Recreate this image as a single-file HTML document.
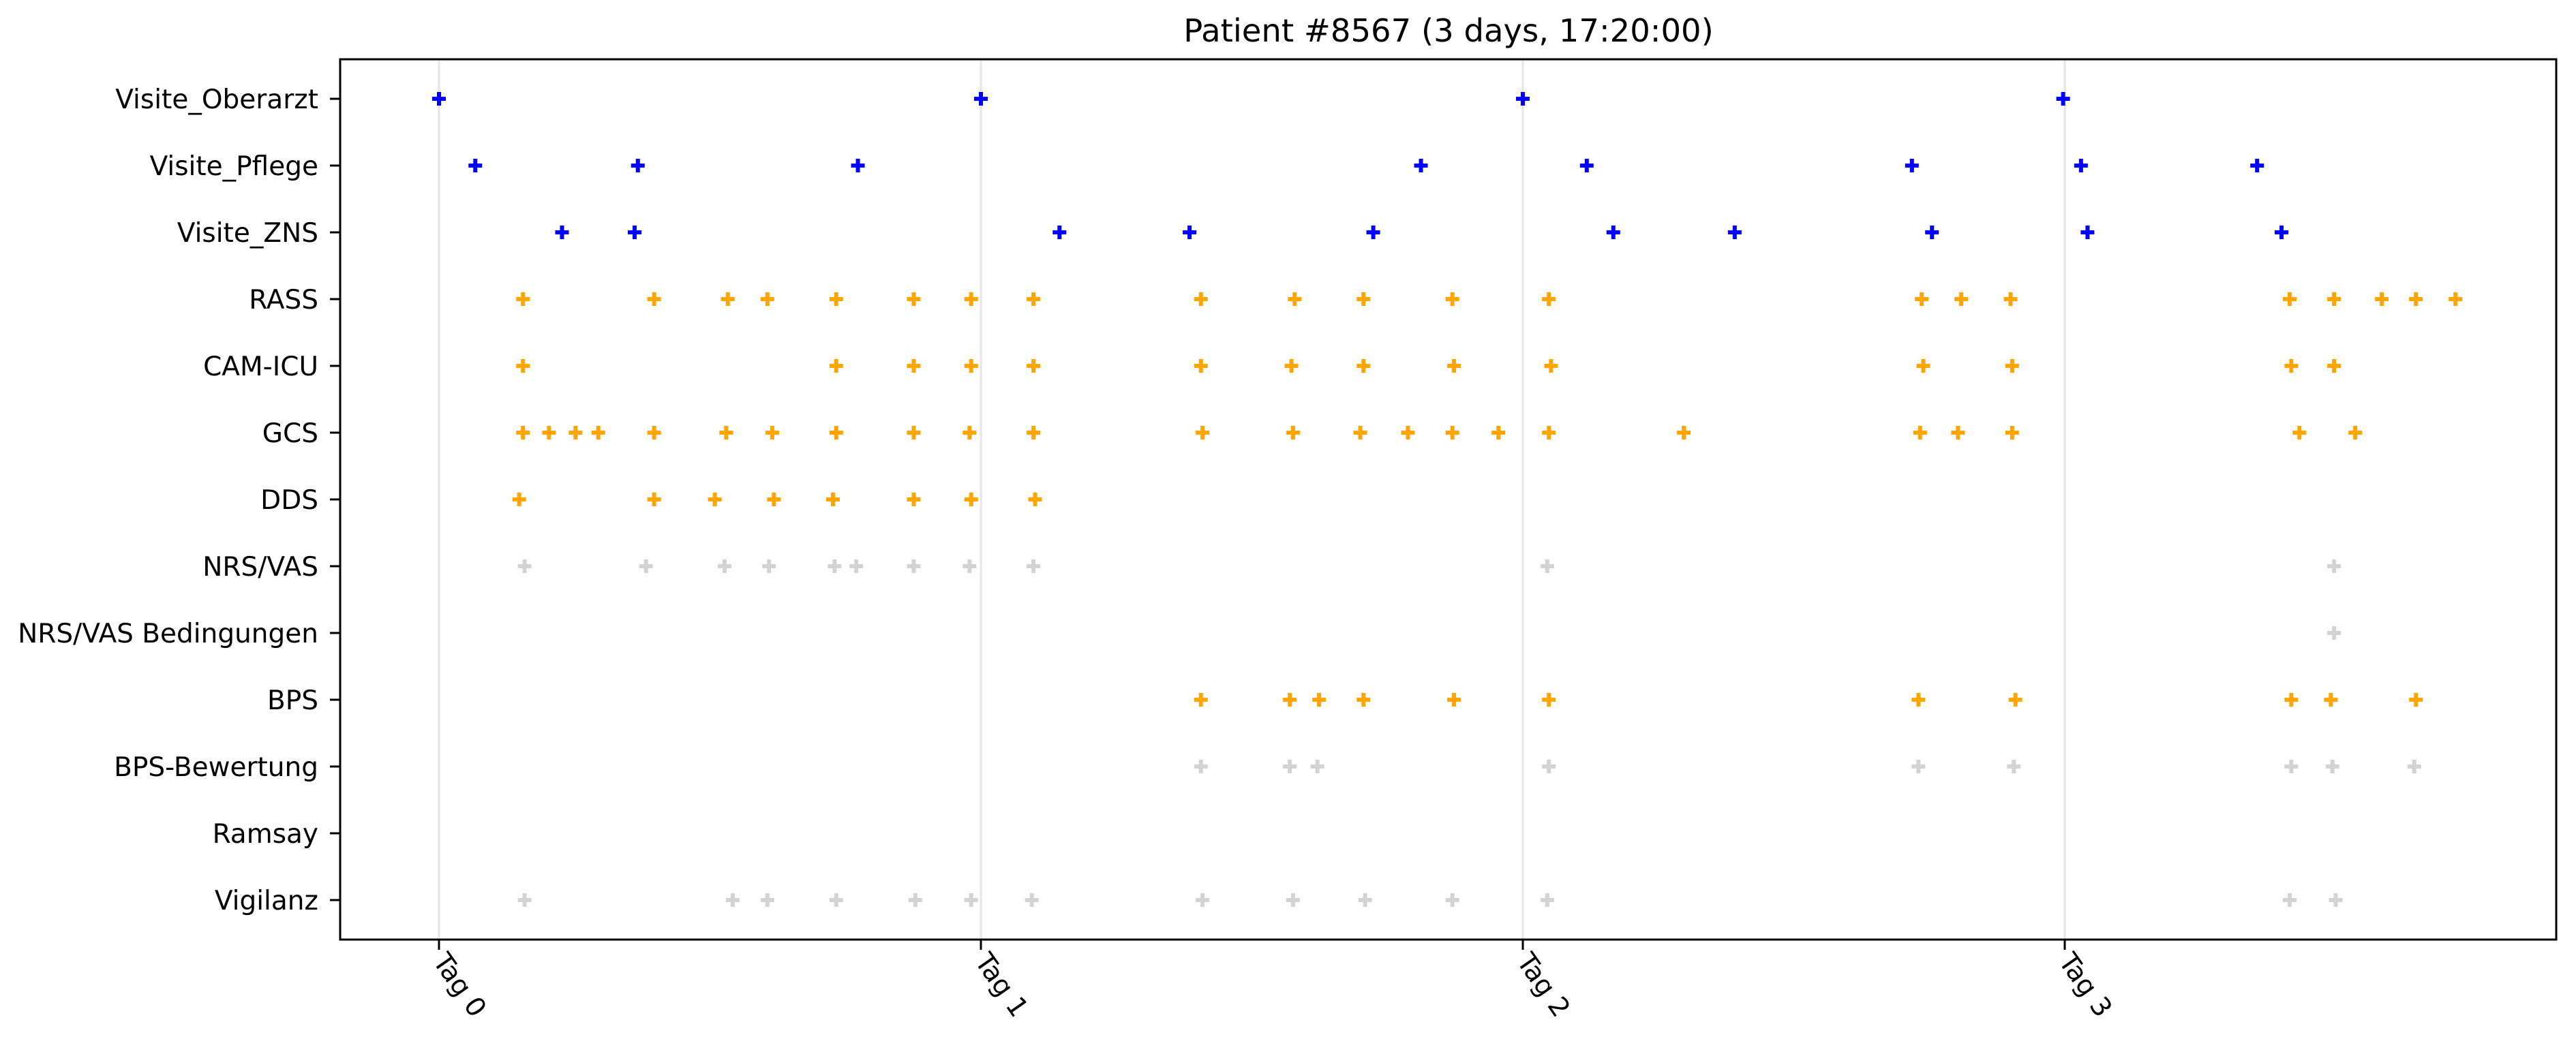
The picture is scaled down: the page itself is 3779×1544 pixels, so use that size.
<!DOCTYPE html>
<html><head><meta charset="utf-8"><style>
html,body{margin:0;padding:0;background:#fff;}
svg text{font-family:"DejaVu Sans","Liberation Sans",sans-serif;}
</style></head><body>
<svg id="chart" width="3779" height="1539" xmlns="http://www.w3.org/2000/svg">
<rect width="3779" height="1539" fill="#fff"/>
<text x="2125" y="61" font-size="46.5" text-anchor="middle">Patient #8567 (3 days, 17:20:00)</text>
<g id="grid"></g><g id="marks"></g><g id="axes"></g>
</svg>
<script>
const categories=["Visite_Oberarzt","Visite_Pflege","Visite_ZNS","RASS","CAM-ICU","GCS","DDS","NRS/VAS","NRS/VAS Bedingungen","BPS","BPS-Bewertung","Ramsay","Vigilanz"];
const seriesColors=["blue","blue","blue","orange","orange","orange","orange","lightgrey","lightgrey","orange","lightgrey","orange","lightgrey"];
const dayTicks=[0,1,2,3];
const tickLabels=["Tag 0","Tag 1","Tag 2","Tag 3"];
const visiteOberarzt=[0,1,2,2.997];
const visitePflege=[0.067,0.367,0.773,1.812,2.118,2.718,3.030,3.355];
const visiteZNS=[0.227,0.361,1.145,1.385,1.724,2.167,2.391,2.755,3.042,3.400];
const rass=[0.155,0.397,0.533,0.606,0.733,0.876,0.982,1.097,1.406,1.579,1.706,1.870,2.048,2.736,2.809,2.900,3.415,3.497,3.585,3.648,3.721];
const camIcu=[0.155,0.733,0.876,0.982,1.097,1.406,1.573,1.706,1.873,2.052,2.739,2.903,3.418,3.497];
const gcs=[0.155,0.203,0.252,0.294,0.397,0.530,0.615,0.733,0.876,0.979,1.097,1.409,1.576,1.700,1.788,1.870,1.955,2.048,2.297,2.733,2.803,2.903,3.433,3.536];
const dds=[0.148,0.397,0.509,0.618,0.727,0.876,0.982,1.100];
const nrsVas=[0.158,0.382,0.527,0.609,0.730,0.770,0.876,0.979,1.097,2.045,3.497];
const nrsVasBed=[3.497];
const bps=[1.406,1.570,1.624,1.706,1.873,2.048,2.730,2.909,3.418,3.491,3.648];
const bpsBewertung=[1.406,1.570,1.621,2.048,2.730,2.906,3.418,3.494,3.645];
const ramsay=[];
const vigilanz=[0.158,0.542,0.606,0.733,0.879,0.982,1.094,1.409,1.576,1.709,1.870,2.045,3.415,3.500];
const series=[visiteOberarzt,visitePflege,visiteZNS,rass,camIcu,gcs,dds,nrsVas,nrsVasBed,bps,bpsBewertung,ramsay,vigilanz];

const NS="http://www.w3.org/2000/svg";
const L=499,R=3750,T=87,B=1379;
const x0=644,dayW=795;
function xScale(d){return x0+d*dayW;}
function yScale(i){return 145+i*98;}
function mk(tag,attrs,parent){const e=document.createElementNS(NS,tag);for(const k in attrs)e.setAttribute(k,attrs[k]);parent.appendChild(e);return e;}
const grid=document.getElementById('grid'),marks=document.getElementById('marks'),axes=document.getElementById('axes');
dayTicks.forEach((d,i)=>{
  const x=xScale(d);
  const g=mk('line',{x1:x,x2:x,y1:T,y2:B,stroke:'#e6e6e6','stroke-width':3},grid);
  
  
  const t=mk('line',{x1:x,x2:x,y1:B,y2:B+15,stroke:'#000','stroke-width':3},axes);
  
  
  const lb=mk('text',{x:0,y:0,'font-size':39,transform:`translate(${x-10},${B+32}) rotate(55)`},axes);
  lb.textContent=tickLabels[i];
  
  
});
categories.forEach((c,i)=>{
  const y=yScale(i);
  const t=mk('line',{x1:L-15,x2:L,y1:y,y2:y,stroke:'#000','stroke-width':3},axes);
  
  
  const lb=mk('text',{x:467,y:y+14,'font-size':39,'text-anchor':'end'},axes);
  lb.textContent=c;
  
  
  series[i].forEach(d=>{
    const x=xScale(d);
    const p=mk('path',{d:`M${x-10},${y}H${x+10}M${x},${y-10}V${y+10}`,stroke:seriesColors[i],'stroke-width':6,fill:'none'},marks);
    
    
  });
});
const frame=mk('rect',{x:L,y:T,width:R-L,height:B-T,fill:'none',stroke:'#000','stroke-width':3},axes);


</script>
</body></html>
